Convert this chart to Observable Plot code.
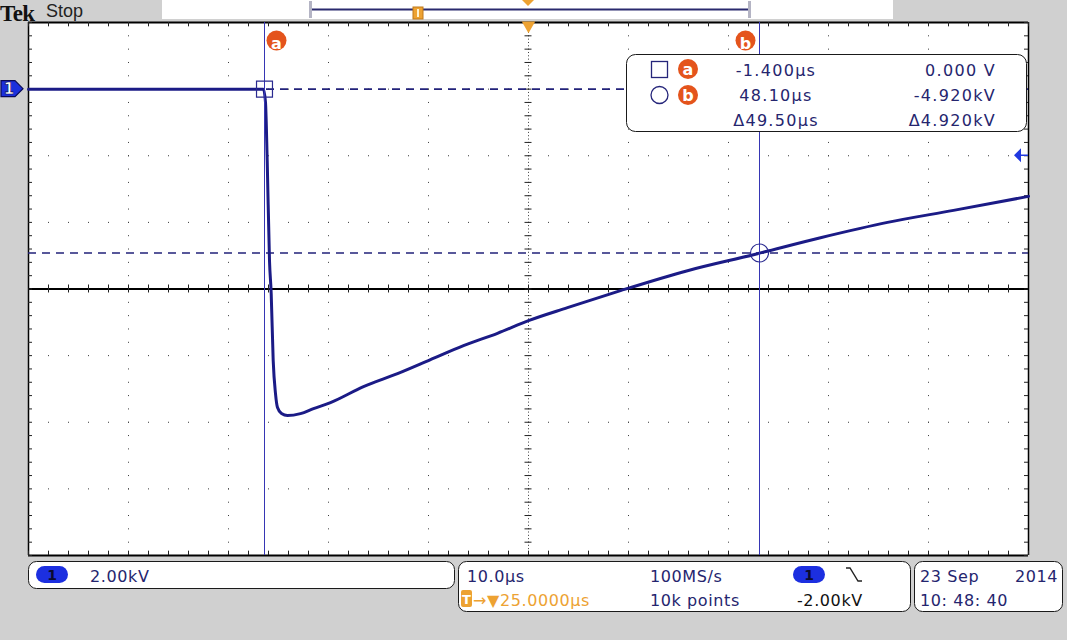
<!DOCTYPE html>
<html><head><meta charset="utf-8">
<script src="https://cdn.jsdelivr.net/npm/d3@7"></script>
<script src="https://cdn.jsdelivr.net/npm/@observablehq/plot@0.6"></script>
<style>
html,body{margin:0;padding:0;background:#d0d0d0;}
#chart{position:relative;width:1067px;height:640px;}
</style></head><body><div id="chart"></div>
<script>
// ---- data (time in µs, voltage in kV) ----
const traceTime  = [-25, -15, -5, -1.5, -1.3, -1.13, -0.9, -0.73, -0.53, -0.3, -0.1, 0.3, 0.9, 2.2, 3.5, 5.2, 8.5, 11.9, 15.2, 18.5, 21.9, 25.0, 28.9, 34.2, 40.9, 47.5, 54.2, 60.9, 67.5, 75];
const traceVolts = [0, 0, 0, 0, -0.4, -2.14, -5.15, -6.14, -8.15, -9.14, -9.56, -9.74, -9.80, -9.74, -9.59, -9.41, -8.93, -8.54, -8.12, -7.70, -7.33, -6.95, -6.56, -6.05, -5.45, -4.97, -4.46, -4.00, -3.64, -3.22];
const cursorTimes = [-1.4, 48.1];
const cursorVolts = [0, -4.92];
const cursorNames = ["a", "b"];
const readTime = ["-1.400µs", "48.10µs", "Δ49.50µs"];
const readVolt = ["0.000 V", "-4.920kV", "Δ4.920kV"];
const gridTimes = [-15, -5, 5, 15, 35, 45, 55, 65];
const gridVolts = [0, -2, -4, -8, -10, -12];
const centerTime = 25, centerVolt = -6;
const triggerLevel = -2;
const minorTimes = d3.range(-25, 75.001, 2);
const minorVolts = d3.range(-14, 2.001, 0.4);
const timeDomain = [-25, 75], voltDomain = [-14, 2];
const scaleText = "2.00kV", timebaseText = "10.0µs", rateText = "100MS/s", pointsText = "10k points";
const delayText = "→▼25.0000µs", trigText = "-2.00kV", dateText = "23 Sep", yearText = "2014", clockText = "10: 48: 40";

const trace = traceTime.map((t, i) => ({t, v: traceVolts[i]}));
const cursors = cursorTimes.map((t, i) => ({t, v: cursorVolts[i], name: cursorNames[i]}));

const NAVY = "#1b1b86";
const ORANGE = "#e4541c";
const GOLD = "#eda232";
const DOT = "#3a3a3a";

const chart = Plot.plot({
  width: 1067, height: 640,
  marginLeft: 28, marginRight: 39, marginTop: 22, marginBottom: 85,
  x: {domain: timeDomain, axis: null},
  y: {domain: voltDomain, axis: null},
  style: {background: "#d0d0d0", overflow: "visible", fontFamily: "DejaVu Sans"},
  marks: [
    Plot.frame({fill: "white", stroke: "none"}),
    // dotted graticule
    Plot.ruleX(gridTimes, {stroke: DOT, strokeWidth: 1, strokeDasharray: "1,12.325"}),
    Plot.ruleY(gridVolts, {stroke: DOT, strokeWidth: 1, strokeDasharray: "1,19"}),
    Plot.ruleX([centerTime], {stroke: DOT, strokeWidth: 1, strokeDasharray: "1,2.33"}),
    Plot.ruleY([centerVolt], {stroke: "black", strokeWidth: 2}),
    // minor ticks on centre lines
    Plot.ruleX(minorTimes, {y1: centerVolt - 0.12, y2: centerVolt + 0.12, stroke: "#222"}),
    Plot.ruleY(minorVolts, {x1: centerTime - 0.35, x2: centerTime + 0.35, stroke: "#222"}),
    // borders + ticks
    Plot.ruleY([voltDomain[1]], {stroke: "black", strokeWidth: 2}),
    Plot.ruleY([voltDomain[0]], {stroke: "black", strokeWidth: 2}),
    Plot.ruleX([timeDomain[0]], {stroke: "black", strokeWidth: 1.5}),
    Plot.ruleX([timeDomain[1]], {stroke: "black", strokeWidth: 1.5}),
    Plot.ruleX(minorTimes, {y1: voltDomain[1], y2: voltDomain[1] - 0.13, stroke: "#222"}),
    Plot.ruleX(minorTimes, {y1: voltDomain[0], y2: voltDomain[0] + 0.13, stroke: "#222"}),
    Plot.ruleY(minorVolts, {x1: timeDomain[0], x2: timeDomain[0] + 0.4, stroke: "#222"}),
    Plot.ruleY(minorVolts, {x1: timeDomain[1], x2: timeDomain[1] - 0.4, stroke: "#222"}),
    // horizontal (voltage) cursors
    Plot.ruleY(cursorVolts, {stroke: "#22227a", strokeWidth: 1.6, strokeDasharray: "8,6"}),
    // waveform
    Plot.line(trace, {x: "t", y: "v", stroke: NAVY, strokeWidth: 3, strokeLinejoin: "round", curve: "monotone-x"}),
    // vertical (time) cursors
    Plot.ruleX(cursorTimes, {stroke: "#3636b4", strokeWidth: 1}),
    Plot.dot(cursors.slice(0, 1), {x: "t", y: "v", symbol: "square", r: 9, stroke: "#2a2a90", strokeWidth: 1.2, fill: "none"}),
    Plot.dot(cursors.slice(1), {x: "t", y: "v", symbol: "circle", r: 9, stroke: "#2a2a90", strokeWidth: 1.2, fill: "none"}),
    // cursor badges
    Plot.dot(cursors.slice(0, 1), {x: "t", frameAnchor: "top", dy: 18, dx: 12, r: 10, fill: ORANGE}),
    Plot.dot(cursors.slice(1), {x: "t", frameAnchor: "top", dy: 18, dx: -14, r: 10, fill: ORANGE}),
    Plot.text(cursors.slice(0, 1), {x: "t", text: "name", frameAnchor: "top", dy: 15, dx: 12, fill: "white", fontWeight: "bold", fontSize: 16}),
    Plot.text(cursors.slice(1), {x: "t", text: "name", frameAnchor: "top", dy: 15, dx: -14, fill: "white", fontWeight: "bold", fontSize: 16}),
    // trigger position marker on top border
    Plot.dot([centerTime], {x: d => d, frameAnchor: "top", dy: 3, symbol: "triangle", rotate: 180, r: 5, fill: GOLD})
  ]
});
document.getElementById("chart").appendChild(chart);

// ---- overlays (instrument panels) ----
const xs = chart.scale("x"), ys = chart.scale("y");
const svg = d3.select(chart);
const g = svg.append("g").attr("font-family", "DejaVu Sans").attr("text-anchor", "start");

// header
g.append("text").attr("x", 0).attr("y", 21).attr("text-anchor", "start").attr("font-family", "Liberation Serif").attr("font-weight", "bold")
  .attr("font-size", 23).attr("letter-spacing", -0.6).attr("fill", "#111").text("Tek");
g.append("text").attr("x", 46).attr("y", 17).attr("text-anchor", "start").attr("font-family", "Liberation Sans").attr("font-size", 18)
  .attr("fill", "#222").text("Stop");
g.append("rect").attr("x", 162).attr("y", 0).attr("width", 731).attr("height", 19).attr("fill", "white");
g.append("line").attr("x1", 311).attr("x2", 749).attr("y1", 9.5).attr("y2", 9.5).attr("stroke", "#2a2a6e").attr("stroke-width", 2);
[309, 748].forEach(x => g.append("rect").attr("x", x).attr("y", 1).attr("width", 3).attr("height", 17).attr("fill", "#b4b4c4"));
g.append("rect").attr("x", 413).attr("y", 7).attr("width", 10).attr("height", 12).attr("fill", GOLD).attr("stroke", "#c07818");
g.append("rect").attr("x", 417).attr("y", 9).attr("width", 2).attr("height", 8).attr("fill", "#fff3d0");
const cx = xs.apply(centerTime);
g.append("path").attr("d", `M${cx - 6},0 L${cx + 6},0 L${cx},6 Z`).attr("fill", GOLD);

// ground marker for channel 1
const gy = ys.apply(0);
g.append("path").attr("d", `M1,${gy - 8} L15,${gy - 8} L23,${gy} L15,${gy + 8} L1,${gy + 8} Z`)
  .attr("fill", "#1c30dc").attr("stroke", "#0b0b55").attr("stroke-width", 1.2);
g.append("text").attr("x", 9).attr("y", gy + 5.5).attr("text-anchor", "middle").attr("font-weight", "bold")
  .attr("font-size", 15).attr("fill", "white").attr("stroke", "#0b0b55").attr("stroke-width", 0.6).text("1");

// trigger level marker on right edge
const ty = ys.apply(triggerLevel), rx = xs.apply(timeDomain[1]);
g.append("path").attr("d", `M${rx - 14},${ty} L${rx - 7},${ty - 7} L${rx - 7},${ty + 7} Z`).attr("fill", "#2038e0");
g.append("line").attr("x1", rx - 8).attr("x2", rx).attr("y1", ty).attr("y2", ty).attr("stroke", "#2038e0").attr("stroke-width", 1.5);

// cursor readout box
g.append("rect").attr("x", 626.5).attr("y", 54.5).attr("width", 400).attr("height", 77).attr("rx", 9)
  .attr("fill", "white").attr("stroke", "#1a1a1a");
const TXT = "#25256e";
const rowY = [76, 101, 126];
g.append("rect").attr("x", 651.5).attr("y", 61.5).attr("width", 16).attr("height", 16).attr("fill", "none").attr("stroke", "#25257a").attr("stroke-width", 1.3);
g.append("circle").attr("cx", 659.5).attr("cy", 95).attr("r", 8.5).attr("fill", "none").attr("stroke", "#25257a").attr("stroke-width", 1.3);
cursorNames.forEach((n, i) => {
  const cy = [69, 95][i];
  g.append("circle").attr("cx", 688).attr("cy", cy).attr("r", 10).attr("fill", ORANGE);
  g.append("text").attr("x", 688).attr("y", cy + 5.5).attr("text-anchor", "middle").attr("font-weight", "bold")
    .attr("font-size", 16).attr("fill", "white").text(n);
});
readTime.forEach((s, i) => g.append("text").attr("x", 776).attr("y", rowY[i]).attr("text-anchor", "middle")
  .attr("font-size", 16).attr("letter-spacing", 1.3).attr("fill", TXT).text(s));
readVolt.forEach((s, i) => g.append("text").attr("x", 996).attr("y", rowY[i]).attr("text-anchor", "end")
  .attr("font-size", 16).attr("letter-spacing", 1.3).attr("fill", TXT).text(s));

// bottom panels
const panel = (x, y, w, h) => g.append("rect").attr("x", x + 0.5).attr("y", y + 0.5).attr("width", w).attr("height", h)
  .attr("rx", 8).attr("fill", "white").attr("stroke", "#1a1a1a");
panel(28, 561, 426, 27);
panel(458, 561, 452, 50);
panel(914, 561, 148, 50);
const pill = (x, y) => {
  g.append("rect").attr("x", x).attr("y", y).attr("width", 32).attr("height", 17).attr("rx", 8.5).attr("fill", "#1c2fe0");
  g.append("text").attr("x", x + 16).attr("y", y + 14).attr("text-anchor", "middle").attr("font-weight", "bold")
    .attr("font-size", 14).attr("fill", "#0a0a30").text("1");
};
pill(36, 566);
pill(793, 566);
const txt = (x, y, s, fill, anchor = "start") => g.append("text").attr("x", x).attr("y", y).attr("text-anchor", anchor)
  .attr("font-size", 16).attr("letter-spacing", 0.6).attr("fill", fill).text(s);
txt(90, 582, scaleText, TXT);
txt(467, 582, timebaseText, TXT);
txt(650, 582, rateText, TXT);
g.append("path").attr("d", "M846,568 H850 L858,581 H862").attr("fill", "none").attr("stroke", "#222").attr("stroke-width", 1.4);
g.append("rect").attr("x", 461).attr("y", 590).attr("width", 11).attr("height", 17).attr("rx", 2).attr("fill", GOLD);
g.append("text").attr("x", 466.5).attr("y", 604).attr("text-anchor", "middle").attr("font-weight", "bold")
  .attr("font-size", 13).attr("fill", "white").text("T");
txt(473, 606, delayText, GOLD);
txt(650, 606, pointsText, TXT);
txt(797, 606, trigText, "#111");
txt(920, 582, dateText, TXT);
txt(1058, 582, yearText, TXT, "end");
txt(920, 606, clockText, TXT);
</script></body></html>
